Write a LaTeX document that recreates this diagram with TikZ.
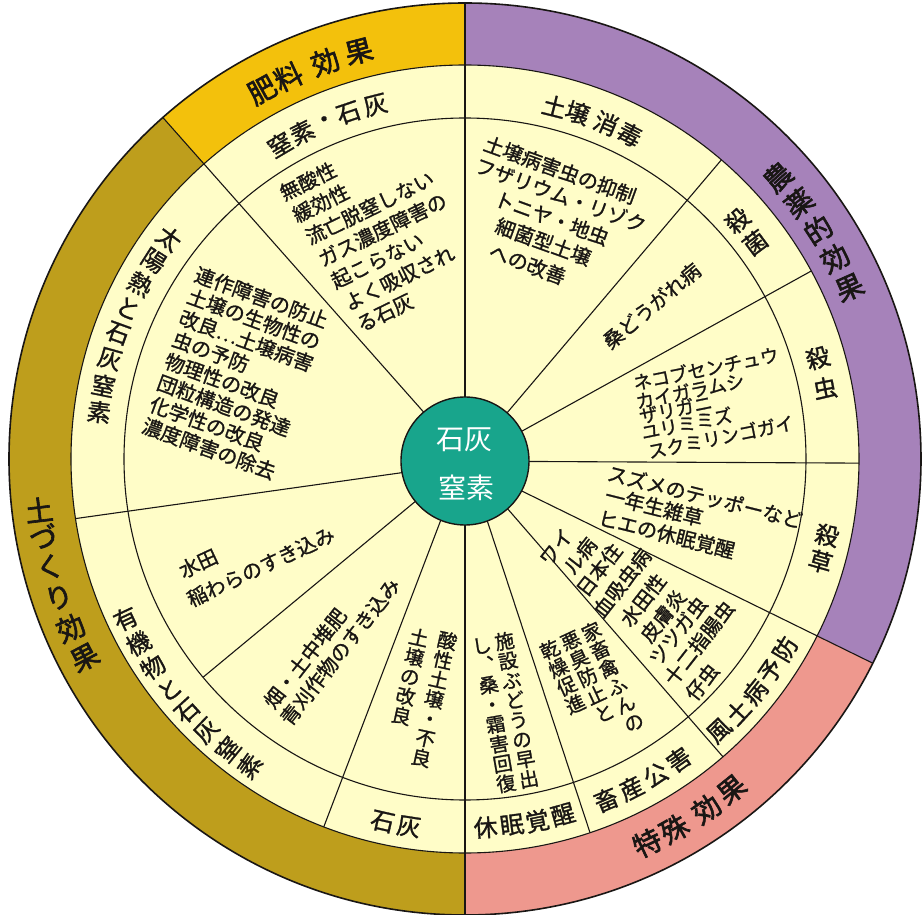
\documentclass[tikz,border=0pt]{standalone}
\usepackage{fontspec}
\setmainfont{Noto Sans CJK JP}
\newfontfamily\innerf{Noto Sans CJK JP}[FakeBold=1.2]
\newfontfamily\bandf{Noto Sans CJK JP}[FakeBold=2.2]
\definecolor{gold}{RGB}{243,193,12}
\definecolor{olivebd}{RGB}{190,158,28}
\definecolor{purp}{RGB}{166,130,186}
\definecolor{pinkbd}{RGB}{238,152,142}
\definecolor{cream}{RGB}{255,253,200}
\definecolor{tealc}{RGB}{24,165,140}
\definecolor{ink}{RGB}{25,22,20}
\begin{document}
\begin{tikzpicture}[x=1pt,y=1pt,
  ln/.style={draw=ink,line width=1.1pt},
  txt/.style={inner sep=0pt,text=ink,font=\innerf\fontsize{20}{23}\selectfont},
  ktxt/.style={inner sep=0pt,text=ink,font=\innerf\fontsize{18.5}{20}\selectfont},
  tate/.style={inner sep=0pt,text=ink,align=center,font=\innerf\fontsize{19.5}{20}\selectfont},
  ringlbl/.style={inner sep=0pt,text=ink,font=\innerf\fontsize{24}{24}\selectfont},
  bandlbl/.style={inner sep=0pt,text=ink,font=\bandf\fontsize{28}{28}\selectfont},
  hub/.style={inner sep=0pt,text=white,font=\fontsize{28}{28}\selectfont}]
\useasboundingbox (-465,-456) rectangle (459,459);
\fill[white] (-465,-456) rectangle (459,459);
% outer band sectors
\fill[gold] (0,0) -- (90:456) arc[start angle=90,end angle=131.5,radius=456] -- cycle;
\fill[olivebd] (0,0) -- (131.5:456) arc[start angle=131.5,end angle=270,radius=456] -- cycle;
\fill[pinkbd] (0,0) -- (270:456) arc[start angle=270,end angle=333.4,radius=456] -- cycle;
\fill[purp] (0,0) -- (-26.6:456) arc[start angle=-26.6,end angle=90,radius=456] -- cycle;
\fill[cream] (0,0) circle[radius=394];
\draw[ln] (0,0) circle[radius=394];
\draw[ln] (0,0) circle[radius=341];
\draw[draw=ink,line width=1.6pt] (0,0) circle[radius=456];
% sector lines
\foreach \n/\ai/\ao/\ro in {1/90/90/456, 2/47.5/49.4/394, 3/25.8/28.5/394,
  4/-2.4/-0.6/394, 5/-29.8/-26.6/456, 6/-49.5/-49.1/394, 7/-70/-71.5/394,
  8/-90/-90/456, 9/-111.7/-111/394, 10/-139.4/-140.2/341, 11/192.7/188.7/394,
  12/131.4/131.5/456} {
  \coordinate (li\n) at (\ai:58);
  \coordinate (lo\n) at (\ao:\ro);
  \draw[ln] (li\n) -- (lo\n);
}
% hub
\node[circle,fill=tealc,draw=ink,line width=1.4pt,minimum size=128pt,inner sep=0pt] (hubc) at (0,-2) {};
% outer band labels
\foreach \a/\t [count=\i] in {118.8/肥,114.8/料,109.4/効,104.6/果}
  \node[bandlbl,rotate=\a-90] (hiryo\i) at (\a:421) {\t};
\foreach \a/\t [count=\i] in {42/農,37.5/薬,33/的,28.5/効,24/果}
  \node[bandlbl,rotate=\a] (noyaku\i) at (\a:421) {\t};
\foreach \a/\t [count=\i] in {-64.6/特,-60.5/殊,-55.4/効,-51.1/果}
  \node[bandlbl,rotate=\a+90] (tokushu\i) at (\a:425) {\t};
\foreach \a/\t [count=\i] in {186.8/土,190.4/づ,194.6/く,198.8/り,203.2/効,207.6/果}
  \node[bandlbl,rotate=\a-180] (tsuchi\i) at (\a:429) {\t};
% ring labels
\foreach \a/\t [count=\i] in {120.5/窒,116.5/素,112.5/・,108.6/石,104.2/灰}
  \node[ringlbl,rotate=\a-90] (rnk\i) at (\a:365) {\t};
\foreach \a/\t [count=\i] in {75.8/土,72.0/壌,67.2/消,63.1/毒}
  \node[ringlbl,rotate=\a-90] (rds\i) at (\a:364) {\t};
\foreach \a/\t [count=\i] in {41.2/殺,36.7/菌}
  \node[ringlbl,rotate=\a] (rsk\i) at (\a:362) {\t};
\foreach \a/\t [count=\i] in {16.0/殺,11.1/虫}
  \node[ringlbl,rotate=\a] (rsc\i) at (\a:367) {\t};
\foreach \a/\t [count=\i] in {-11.9/殺,-16.1/草}
  \node[ringlbl,rotate=\a] (rss\i) at (\a:370) {\t};
\foreach \a/\t [count=\i] in {-46.9/風,-42.85/土,-38.8/病,-34.75/予,-30.7/防}
  \node[ringlbl,rotate=\a+90] (rfd\i) at (\a:372) {\t};
\foreach \a/\t [count=\i] in {-67.5/畜,-63.2/産,-58.9/公,-54.6/害}
  \node[ringlbl,rotate=\a+90] (rck\i) at (\a:369) {\t};
\foreach \a/\t [count=\i] in {-86.8/休,-82.7/眠,-78.7/覚,-74.6/醒}
  \node[ringlbl,rotate=\a+90] (rkm\i) at (\a:369) {\t};
\foreach \a/\t [count=\i] in {-102.8/石,-98.7/灰}
  \node[ringlbl,rotate=\a+90] (rsh\i) at (\a:372) {\t};
\foreach \a/\t [count=\i] in {143.3/太,147.5/陽,151.7/熱,155.9/と,160.1/石,164.3/灰,168.5/窒,172.7/素}
  \node[ringlbl,rotate=\a-180] (rty\i) at (\a:369) {\t};
\foreach \a/\t [count=\i] in {205.2/有,209.45/機,213.7/物,217.95/と,222.2/石,226.45/灰,230.7/窒,234.95/素}
  \node[ringlbl,rotate=\a-180] (ruk\i) at (\a:375) {\t};
% inner texts in image coordinates
\begin{scope}[shift={(-465,459)}]
\node[hub] (hub1) at (465,-440) {石灰};
\node[hub] (hub2) at (467,-488) {窒素};
% sector: nitrogen/lime
\node[txt,rotate=26] (a1) at (308,-181.2) {無酸性};
\node[txt,rotate=26] (a2) at (320.8,-203.2) {緩効性};
\node[txt,rotate=26] (a3) at (369.6,-207.7) {流亡脱窒しない};
\node[txt,rotate=26] (a4) at (382.4,-229.7) {ガス濃度障害の};
\node[txt,rotate=26] (a5) at (377.3,-260.5) {起こらない};
\node[txt,rotate=26] (a6) at (399.2,-278.1) {よく吸収され};
\node[txt,rotate=26] (a7) at (385,-313.2) {る石灰};
% soil disinfection
\node[txt,rotate=-20] (b1) at (560,-170) {土壌病害虫の抑制};
\node[txt,rotate=-20] (b2) at (560.8,-195) {フザリウム・リゾク};
\node[txt,rotate=-20] (b3) at (551.7,-218.3) {トニヤ・地虫};
\node[txt,rotate=-20] (b4) at (543.3,-241.7) {細菌型土壌};
\node[txt,rotate=-20] (b5) at (527.5,-264.2) {への改善};
% fungicide
\node[txt,rotate=40] (c1) at (651.7,-305.8) {桑どうがれ病};
% insecticide
\node[ktxt,rotate=11.5] (n1) at (705.8,-368.3) {ネコブセンチュウ};
\node[ktxt,rotate=11.5] (n2) at (690,-390.8) {カイガラムシ};
\node[ktxt,rotate=11.5] (n3) at (675.8,-409.2) {ザリガニ};
\node[ktxt,rotate=11.5] (n4) at (686.7,-423.3) {ユリミミズ};
\node[ktxt,rotate=11.5] (n5) at (720.8,-436.7) {スクミリンゴガイ};
% herbicide
\node[txt,rotate=-14] (s1) at (705,-496.7) {スズメのテッポーなど};
\node[txt,rotate=-14] (s2) at (654.2,-506.7) {一年生雑草};
\node[txt,rotate=-14] (s3) at (666.7,-534.2) {ヒエの休眠覚醒};
% endemic disease
\node[txt,rotate=52] (e1) at (556,-547) {ワイ};
\node[txt,rotate=52] (e2) at (580,-556) {ル病};
\node[txt,rotate=52] (e3) at (599,-570) {日本住};
\node[txt,rotate=52] (e4) at (622,-583) {血吸虫病};
\node[txt,rotate=52] (e5) at (643,-600) {水田性};
\node[txt,rotate=52] (e6) at (663,-616) {皮膚炎};
\node[txt,rotate=52] (e7) at (678,-631) {ツツガ虫};
\node[txt,rotate=52] (e8) at (699,-643) {十二指腸虫};
\node[txt,rotate=52] (e9) at (702,-682) {仔虫};
% livestock
\node[tate,rotate=25] (k1) at (612.5,-676.7) {家\\畜\\禽\\ふ\\ん\\の};
\node[tate,rotate=25] (k2) at (587.5,-676.7) {悪\\臭\\防\\止\\と};
\node[tate,rotate=25] (k3) at (562.5,-676.7) {乾\\燥\\促\\進};
% dormancy
\node[tate,rotate=10] (f1) at (516.7,-710) {施\\設\\ぶ\\ど\\う\\の\\早\\出};
\node[tate,rotate=10] (f2) at (494,-715) {し\\︑\\桑\\・\\霜\\害\\回\\復};
% lime
\node[tate,rotate=-12.6] (t1) at (434.2,-699.2) {酸\\性\\土\\壌\\・\\不\\良};
\node[tate,rotate=-12.6] (t2) at (410,-676.7) {土\\壌\\の\\改\\良};
% organic matter
\node[txt,rotate=25] (w1) at (198.3,-563.3) {水田};
\node[txt,rotate=25] (w2) at (260.8,-566.7) {稲わらのすき込み};
\node[txt,rotate=52] (h1) at (305,-658.3) {畑・土中堆肥};
\node[txt,rotate=52] (h2) at (340,-651.7) {青刈作物のすき込み};
% solar heat
\node[txt,rotate=-20] (r1) at (261.4,-297.5) {連作障害の防止};
\node[txt,rotate=-20] (r2) at (253.9,-319.1) {土壌の生物性の};
\node[txt,rotate=-20] (r3) at (246.4,-340.7) {改良…土壌病害};
\node[txt,rotate=-20] (r4) at (210.7,-352.1) {虫の予防};
\node[txt,rotate=-20] (r5) at (222,-380.5) {物理性の改良};
\node[txt,rotate=-20] (r6) at (223.9,-405.5) {団粒構造の発達};
\node[txt,rotate=-20] (r7) at (207,-423.7) {化学性の改良};
\node[txt,rotate=-20] (r8) at (208.9,-448.7) {濃度障害の除去};
\end{scope}
\end{tikzpicture}
\end{document}
